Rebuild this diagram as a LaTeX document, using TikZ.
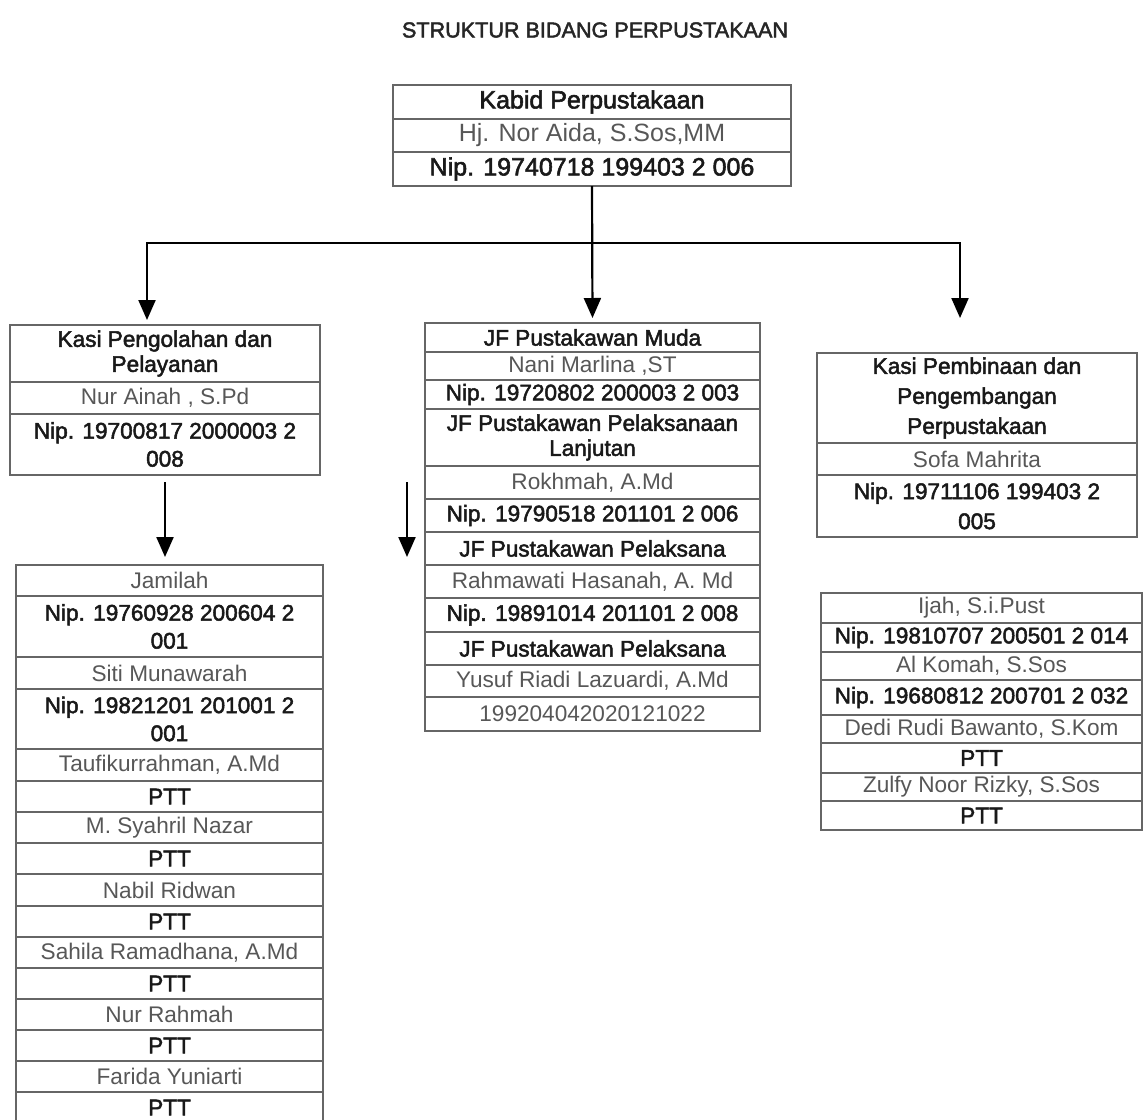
\documentclass[tikz,border=0pt]{standalone}
\usepackage{fontspec}
\setmainfont{Liberation Sans}
\newfontfamily\medfont{Liberation Sans}[FakeBold=2.2]
\usetikzlibrary{arrows.meta}

\tikzset{
  cellbase/.style={draw=black!60, line width=0.7pt, inner sep=0pt, outer sep=0pt, anchor=north west, align=center},
  hd/.style={font=\medfont\fontsize{11.3}{14}\selectfont, text=black!90},
  hdt/.style={font=\medfont\fontsize{11.3}{12.5}\selectfont, text=black!90},
  hdw/.style={font=\medfont\fontsize{11.3}{15}\selectfont, text=black!90},
  nm/.style={font=\fontsize{11.3}{14}\selectfont, text=black!66},
  big/.style={font=\medfont\fontsize{12.5}{15}\selectfont, text=black!90},
  bign/.style={font=\fontsize{12.5}{15}\selectfont, text=black!66},
  ttl/.style={font=\medfont\fontsize{10.8}{12}\selectfont, text=black!85},
  conn/.style={line width=1.1pt, draw=black},
  tip/.tip={Triangle[width=8.5pt,length=10pt]},
  arr/.style={conn, -tip},
}

% name, x, ytop, width, height, style, text
\newcommand\mycell[7]{\node[cellbase,#6,minimum width={(#4)*0.5pt},minimum height={(#5)*0.5pt}] (#1) at (#2,#3) {#7};}

\begin{document}
\begin{tikzpicture}[x=0.5pt,y=-0.5pt]
\useasboundingbox (0,0) rectangle (1143,1119);

\node[ttl] (title) at (595,30) {STRUKTUR BIDANG PERPUSTAKAAN};

% Kabid
\mycell{k1}{393}{85}{398}{34}{big}{Kabid Perpustakaan}
\mycell{k2}{393}{119}{398}{33}{bign}{Hj. Nor Aida, S.Sos,MM}
\mycell{k3}{393}{152}{398}{34}{big}{Nip. 19740718 199403 2 006}

% Kasi left
\mycell{l1}{10}{325}{310}{57}{hdt}{Kasi Pengolahan dan\\Pelayanan}
\mycell{l2}{10}{382}{310}{32}{nm}{Nur Ainah , S.Pd}
\mycell{l3}{10}{414}{310}{61}{hd}{Nip. 19700817 2000003 2\\008}

% Jamilah list
\mycell{j1}{16}{565}{307}{31}{nm}{Jamilah}
\mycell{j2}{16}{596}{307}{61}{hd}{Nip. 19760928 200604 2\\001}
\mycell{j3}{16}{657}{307}{32}{nm}{Siti Munawarah}
\mycell{j4}{16}{689}{307}{60}{hd}{Nip. 19821201 201001 2\\001}
\mycell{j5}{16}{749}{307}{32}{nm}{Taufikurrahman, A.Md}
\mycell{j6}{16}{781}{307}{31}{hd}{PTT}
\mycell{j7}{16}{812}{307}{31}{nm}{M. Syahril Nazar}
\mycell{j8}{16}{843}{307}{31}{hd}{PTT}
\mycell{j9}{16}{874}{307}{32}{nm}{Nabil Ridwan}
\mycell{j10}{16}{906}{307}{31}{hd}{PTT}
\mycell{j11}{16}{937}{307}{31}{nm}{Sahila Ramadhana, A.Md}
\mycell{j12}{16}{968}{307}{31}{hd}{PTT}
\mycell{j13}{16}{999}{307}{31}{nm}{Nur Rahmah}
\mycell{j14}{16}{1030}{307}{31}{hd}{PTT}
\mycell{j15}{16}{1061}{307}{31}{nm}{Farida Yuniarti}
\mycell{j16}{16}{1092}{307}{31}{hd}{PTT}

% Middle JF list
\mycell{m1}{425}{323}{335}{29}{hd}{JF Pustakawan Muda}
\mycell{m2}{425}{352}{335}{28}{nm}{Nani Marlina ,ST}
\mycell{m3}{425}{380}{335}{29}{hd}{Nip. 19720802 200003 2 003}
\mycell{m4}{425}{409}{335}{57}{hdt}{JF Pustakawan Pelaksanaan\\Lanjutan}
\mycell{m5}{425}{466}{335}{33}{nm}{Rokhmah, A.Md}
\mycell{m6}{425}{499}{335}{33}{hd}{Nip. 19790518 201101 2 006}
\mycell{m7}{425}{532}{335}{33}{hd}{JF Pustakawan Pelaksana}
\mycell{m8}{425}{565}{335}{33}{nm}{Rahmawati Hasanah, A. Md}
\mycell{m9}{425}{598}{335}{34}{hd}{Nip. 19891014 201101 2 008}
\mycell{m10}{425}{632}{335}{33}{hd}{JF Pustakawan Pelaksana}
\mycell{m11}{425}{665}{335}{32}{nm}{Yusuf Riadi Lazuardi, A.Md}
\mycell{m12}{425}{697}{335}{34}{nm}{199204042020121022}

% Kasi right
\mycell{r1}{817}{353}{320}{90}{hdw}{Kasi Pembinaan dan\\Pengembangan\\Perpustakaan}
\mycell{r2}{817}{443}{320}{32}{nm}{Sofa Mahrita}
\mycell{r3}{817}{475}{320}{62}{hdw}{Nip. 19711106 199403 2\\005}

% Right list
\mycell{s1}{821}{593}{321}{30}{nm}{Ijah, S.i.Pust}
\mycell{s2}{821}{623}{321}{29}{hd}{Nip. 19810707 200501 2 014}
\mycell{s3}{821}{652}{321}{28}{nm}{Al Komah, S.Sos}
\mycell{s4}{821}{680}{321}{35}{hd}{Nip. 19680812 200701 2 032}
\mycell{s5}{821}{715}{321}{28}{nm}{Dedi Rudi Bawanto, S.Kom}
\mycell{s6}{821}{743}{321}{30}{hd}{PTT}
\mycell{s7}{821}{773}{321}{28}{nm}{Zulfy Noor Rizky, S.Sos}
\mycell{s8}{821}{801}{321}{29}{hd}{PTT}

% Connectors
\coordinate (hl) at (147,243);
\coordinate (hr) at (960,243);
\coordinate (ltip) at (147,320);
\coordinate (rtip) at (960,318);
\draw[conn, tip-tip] (ltip) -- (hl) -- (hr) -- (rtip);
\draw[arr, shorten >=2.5pt] (k3.south) -- (m1.north);
\draw[arr, shorten <=3.5pt, shorten >=4pt] (l3.south) -- (l3.south |- j1.north);
\coordinate (fa) at (407,482);
\coordinate (fb) at (407,557);
\draw[arr] (fa) -- (fb);
\end{tikzpicture}
\end{document}
